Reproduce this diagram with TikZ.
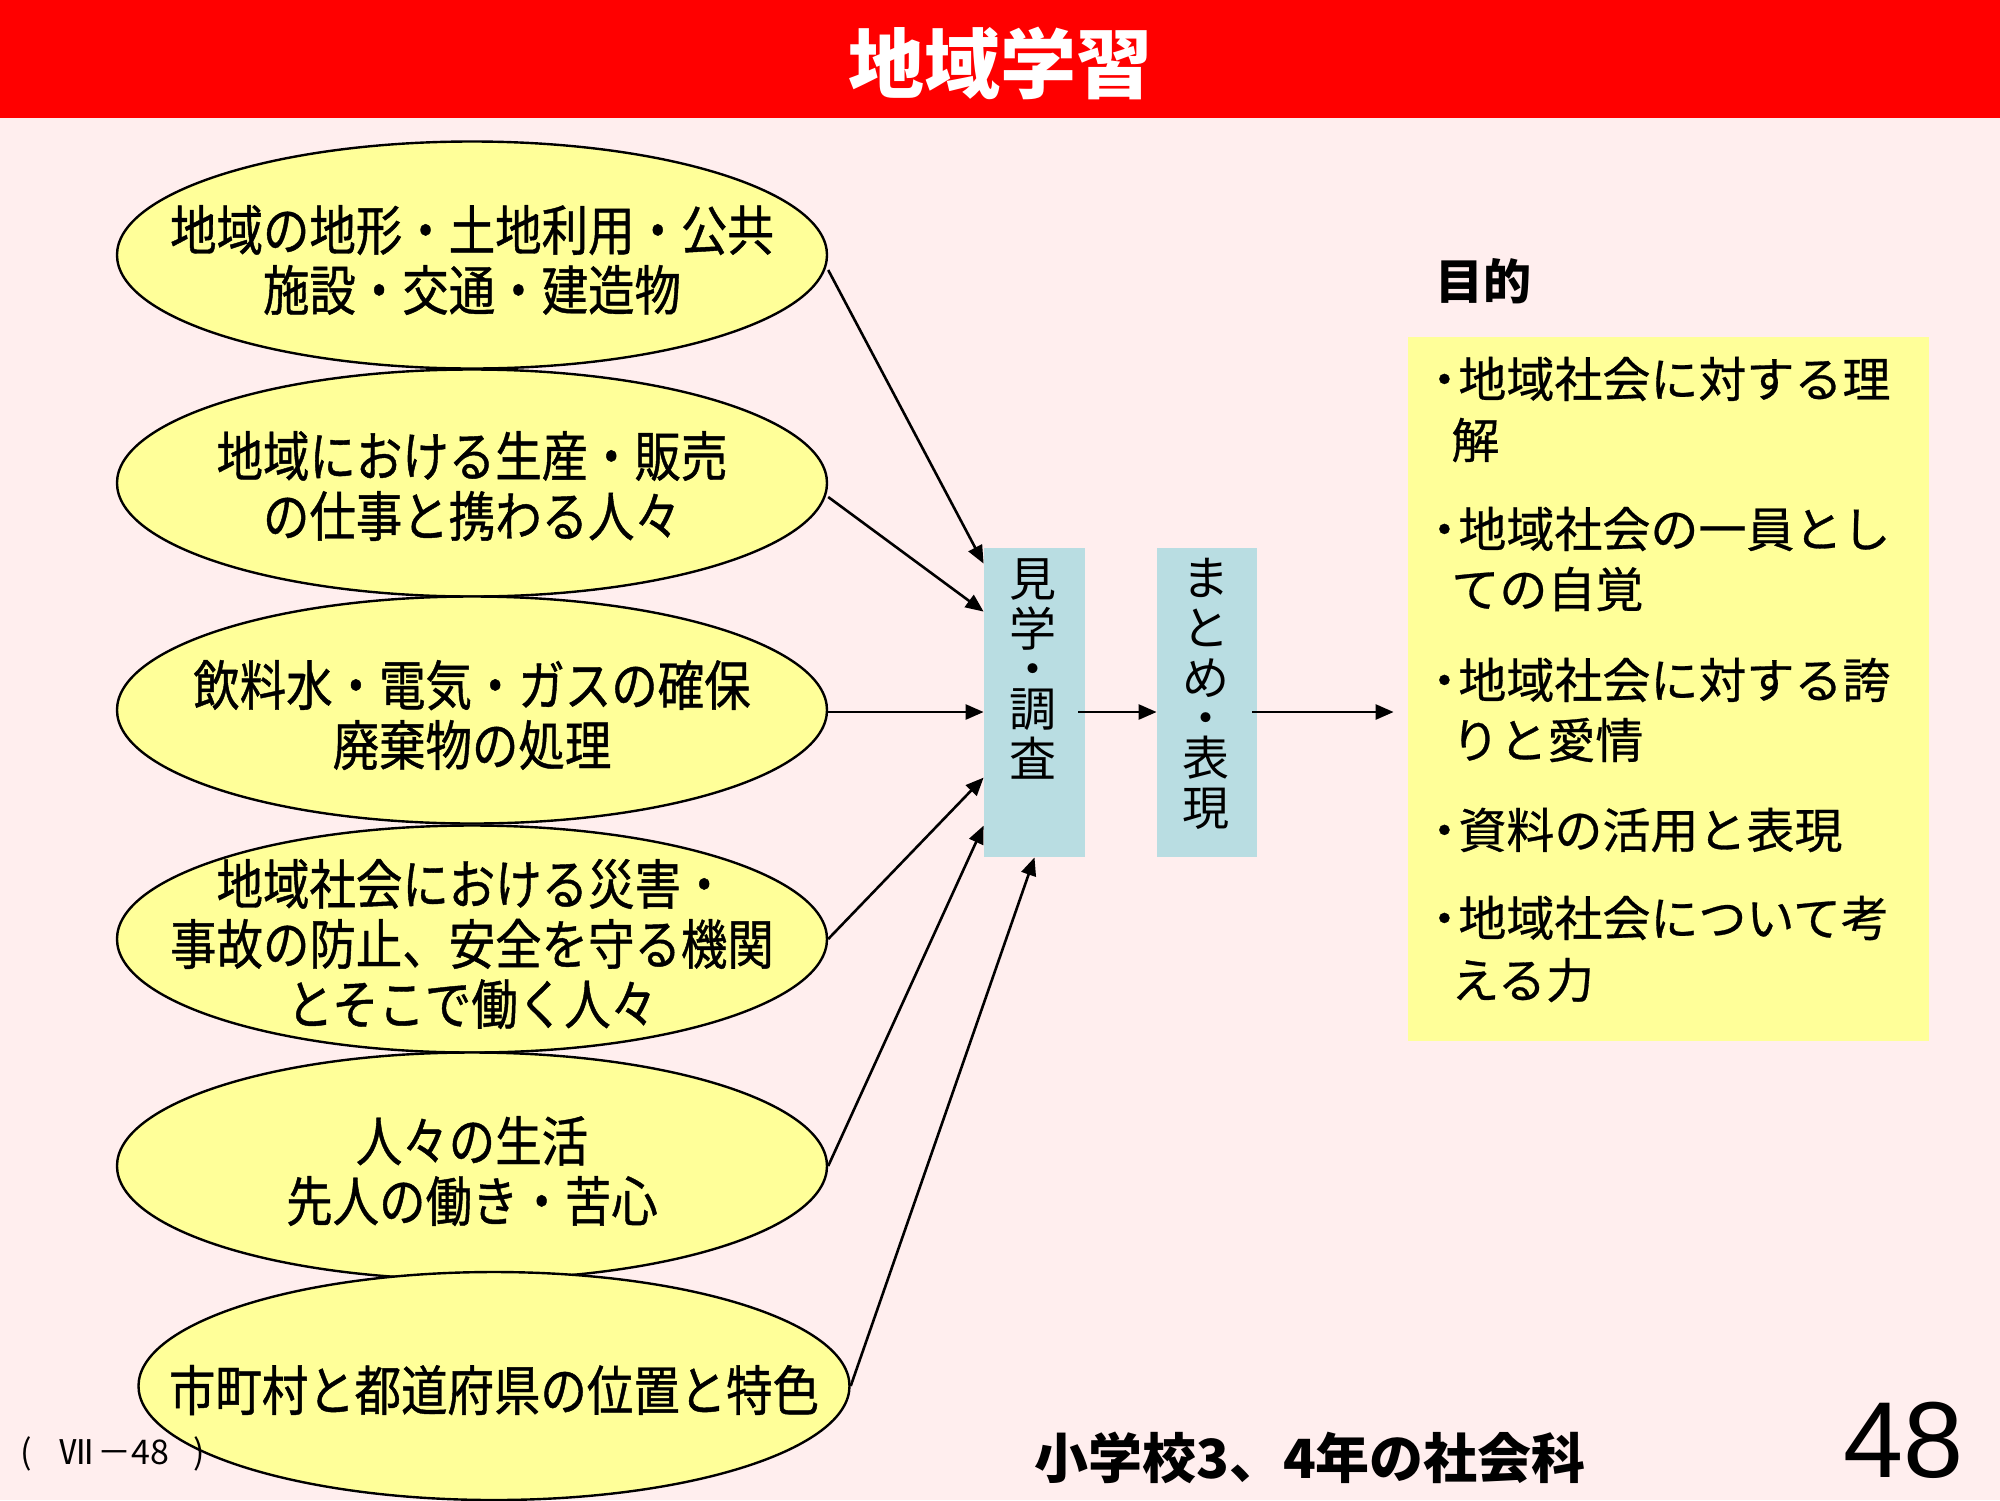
\documentclass[tikz,border=0pt]{standalone}
\usepackage{fontspec}
\setmainfont{Liberation Sans}
\newfontfamily\jp{Noto Sans CJK JP}
\newfontfamily\jpm{Noto Sans CJK JP}[FakeBold=0.6]
\newfontfamily\jpc{Noto Sans CJK JP}[FakeStretch=0.86,FakeBold=0.8]
\usetikzlibrary{shapes.geometric,arrows.meta,calc}
\definecolor{bgpink}{RGB}{255,238,238}
\definecolor{titlered}{RGB}{255,0,0}
\definecolor{softyellow}{RGB}{255,255,153}
\definecolor{softblue}{RGB}{185,221,226}
\tikzset{
  topic/.style={ellipse, draw=black, line width=1.2pt, fill=softyellow, minimum width=355pt, minimum height=113.5pt, inner sep=0pt},
  topictext/.style={align=center, inner sep=0pt, font=\jpc\fontsize{27pt}{30pt}\selectfont},
  stage/.style={fill=softblue, minimum width=50.5pt, minimum height=154.5pt, inner sep=0pt},
  stagetext/.style={align=center, inner sep=0pt, anchor=north, font=\jp\fontsize{23.5pt}{25pt}\selectfont},
  arr/.style={-{Triangle[length=9pt,width=7.5pt]}, line width=1.3pt},
  goaltext/.style={anchor=west, inner sep=0pt, font=\jpm\fontsize{24pt}{30pt}\selectfont},
}
\begin{document}
\begin{tikzpicture}[x=0.5pt,y=-0.5pt]
\fill[bgpink] (0,0) rectangle (2000,1500);
\useasboundingbox (0,0) rectangle (2000,1500);
\fill[titlered] (0,0) rectangle (2000,118);
\node[text=white, font=\jp\bfseries\fontsize{38pt}{40pt}\selectfont, inner sep=0pt] (title) at (1000,63) {地域学習};

% topic ellipses
\node[topic] (e1) at (472,255) {};
\node[topictext] (t1) at (472,260) {地域の地形・土地利用・公共\\施設・交通・建造物};
\node[topic] (e2) at (472,483) {};
\node[topictext] (t2) at (472,486) {地域における生産・販売\\の仕事と携わる人々};
\node[topic] (e3) at (472,710) {};
\node[topictext] (t3) at (472,715) {飲料水・電気・ガスの確保\\廃棄物の処理};
\node[topic] (e4) at (472,939) {};
\node[topictext] (t4) at (472,944) {地域社会における災害・\\事故の防止、安全を守る機関\\とそこで働く人々};
\node[topic] (e5) at (472,1166) {};
\node[topictext] (t5) at (472,1171) {人々の生活\\先人の働き・苦心};
\node[topic, minimum width=355.5pt, minimum height=114pt] (e6) at (494,1386) {};
\node[topictext] (t6) at (494,1390) {市町村と都道府県の位置と特色};

% stages
\node[stage] (b1) at (1034.5,702.5) {};
\node[stagetext] (v1) at (1033,558) {見\\学\\[-5pt]・\\[-5pt]調\\査};
\node[stage, minimum width=50pt] (b2) at (1207,702.5) {};
\node[stagetext] (v2) at (1206,558) {ま\\と\\め\\[-5pt]・\\[-5pt]表\\現};

% goals
\node[fill=softyellow, minimum width=260.5pt, minimum height=352pt, inner sep=0pt] (goal) at (1668.5,689) {};
\node[font=\jp\bfseries\fontsize{24pt}{30pt}\selectfont, anchor=west, inner sep=0pt] (purpose) at (1435,281) {目的};
\node[goaltext] (g1a) at (1420,379) {・\kern-5pt 地域社会に対する理};
\node[goaltext] (g1b) at (1451,440) {解};
\node[goaltext] (g2a) at (1420,529) {・\kern-5pt 地域社会の一員とし};
\node[goaltext] (g2b) at (1451,589) {ての自覚};
\node[goaltext] (g3a) at (1420,680) {・\kern-5pt 地域社会に対する誇};
\node[goaltext] (g3b) at (1451,740) {りと愛情};
\node[goaltext] (g4a) at (1420,830) {・\kern-5pt 資料の活用と表現};
\node[goaltext] (g5a) at (1420,918) {・\kern-5pt 地域社会について考};
\node[goaltext] (g5b) at (1451,980) {える力};

% connectors
\draw[arr] ($(e1.east)+(0,15)$) -- ($(b1.north west)+(0,16)$);
\draw[arr] ($(e2.east)+(0,14)$) -- ($(b1.north west)+(0,64)$);
\draw[arr] ($(e3.east)+(0,2)$) -- ($(b1.west)+(0,9.5)$);
\draw[arr] (e4.east) -- ($(b1.north west)+(0,230)$);
\draw[arr] (e5.east) -- ($(b1.north west)+(0,278)$);
\draw[arr] (e6.east) -- (b1.south);
\draw[arr] ($(b1.east)+(-7,9.5)$) -- ($(b2.west)+(0,9.5)$);
\draw[arr] ($(b2.east)+(-5,9.5)$) -- ($(goal.west)+(-14,23)$);

% footer
\node[font=\jp\bfseries\fontsize{27pt}{30pt}\selectfont, inner sep=0pt] (footer) at (1310,1458) {小学校3、4年の社会科};
\node[font=\fontsize{54pt}{60pt}\selectfont, anchor=base east, inner sep=0pt] (pnum) at (1964,1477) {48};
\node[font=\jp\fontsize{17pt}{19pt}\selectfont, anchor=west, inner sep=0pt] (ref) at (20,1454) {(\hspace{14pt}Ⅶ\hspace{2pt}－48\hspace{12pt})};
\end{tikzpicture}
\end{document}
